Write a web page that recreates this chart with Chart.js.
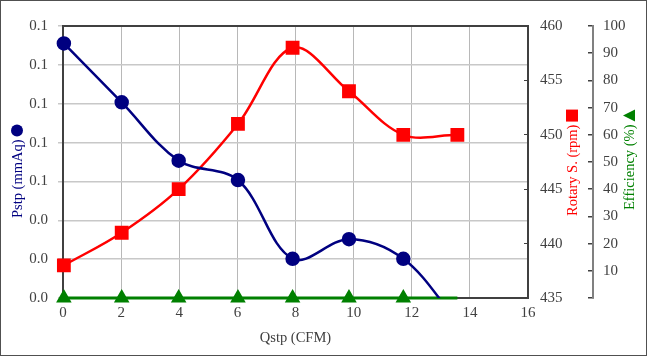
<!DOCTYPE html>
<html lang="en">
<head>
<meta charset="UTF-8">
<title>Pstp / Rotary S. / Efficiency vs Qstp</title>
<script src="https://cdn.jsdelivr.net/npm/chart.js@4.4.1/dist/chart.umd.min.js"></script>
<style>
  body { margin: 0; background: #fff; }
  .frame { width: 647px; height: 356px; box-sizing: border-box; border: 1px solid #505050; background: #fff; }
  canvas { display: block; }
</style>
</head>
<body>
<div class="frame"><canvas id="fanChart" width="645" height="354"></canvas></div>
<script>
// values
const qstp = [0.03, 2.02, 3.98, 6.02, 7.9, 9.84, 11.71, 13.57];
const pstp = [0.131, 0.1007, 0.0707, 0.0607, 0.0202, 0.0303, 0.0202, -0.012];
const rotarySpeed = [438, 441, 445, 451, 458, 454, 450, 450];
const efficiency = [0, 0, 0, 0, 0, 0, 0, 0];

const pstpTickLabels = ['0.0', '0.0', '0.0', '0.1', '0.1', '0.1', '0.1', '0.1'];
const effTickLabels = ['', '10', '20', '30', '40', '50', '60', '70', '80', '90', '100'];

const serif = "'Liberation Serif', 'Times New Roman', serif";
const tickFont = { family: serif, size: 15 };
const tickColor = '#404040';

function pairs(ys) {
  return qstp.map((x, i) => ({ x: x, y: ys[i] }));
}

function fixWidth(w) {
  return function (scale) { scale.width = w; };
}

// frame around the plot and the rotated side titles with their markers
const sideTitles = {
  id: 'sideTitles',
  beforeDatasetsDraw(chart) {
    const { ctx, chartArea: a } = chart;
    ctx.save();
    ctx.strokeStyle = '#404040';
    ctx.lineWidth = 2;
    ctx.strokeRect(a.left, a.top, a.right - a.left, a.bottom - a.top);
    ctx.restore();
  },
  afterDraw(chart) {
    const { ctx, scales } = chart;
    const titles = [
      { text: 'Pstp (mmAq)', color: '#000080', x: scales.y.left + 16, y: 217, mark: 'circle' },
      { text: 'Rotary S. (rpm)', color: '#ff0000', x: scales.y1.left + 44, y: 215, mark: 'square' },
      { text: 'Efficiency (%)', color: '#008000', x: scales.y2.left + 36, y: 209, mark: 'triangle' }
    ];
    ctx.save();
    ctx.font = '14.5px ' + serif;
    titles.forEach(t => {
      ctx.save();
      ctx.translate(t.x, t.y);
      ctx.rotate(-Math.PI / 2);
      ctx.fillStyle = t.color;
      ctx.textAlign = 'left';
      ctx.textBaseline = 'middle';
      ctx.fillText(t.text, 0, 1);
      const cx = ctx.measureText(t.text).width + 9;
      ctx.beginPath();
      if (t.mark === 'circle') {
        ctx.arc(cx, 0, 6, 0, Math.PI * 2);
      } else if (t.mark === 'square') {
        ctx.rect(cx - 6, -6, 12, 12);
      } else {
        ctx.moveTo(cx - 6, 6);
        ctx.lineTo(cx + 6, 6);
        ctx.lineTo(cx, -6);
        ctx.closePath();
      }
      ctx.fill();
      ctx.restore();
    });
    ctx.restore();
  }
};

new Chart(document.getElementById('fanChart'), {
  type: 'line',
  data: {
    datasets: [
      {
        label: 'Pstp (mmAq)',
        data: pairs(pstp),
        yAxisID: 'y',
        borderColor: '#000080',
        backgroundColor: '#000080',
        borderWidth: 2.5,
        pointStyle: 'circle',
        pointRadius: [6, 6, 6, 6, 6, 6, 6, 0],
        tension: 0.35,
        clip: { left: 10, top: 10, right: 10, bottom: 0 }
      },
      {
        label: 'Rotary S. (rpm)',
        data: pairs(rotarySpeed),
        yAxisID: 'y1',
        borderColor: '#ff0000',
        backgroundColor: '#ff0000',
        borderWidth: 2.5,
        pointStyle: 'rect',
        pointRadius: 8,
        tension: 0.35,
        clip: 10
      },
      {
        label: 'Efficiency (%)',
        data: pairs(efficiency),
        yAxisID: 'y2',
        borderColor: '#008000',
        backgroundColor: '#008000',
        borderWidth: 3,
        pointStyle: 'triangle',
        pointRadius: [6, 6, 6, 6, 6, 6, 6, 0],
        tension: 0.35,
        clip: 10
      }
    ]
  },
  options: {
    responsive: false,
    animation: false,
    layout: { padding: { top: 17, left: 0, right: 0, bottom: 0 } },
    plugins: {
      legend: { display: false },
      tooltip: { enabled: false }
    },
    elements: { point: { borderWidth: 0 } },
    scales: {
      x: {
        type: 'linear',
        min: 0,
        max: 16,
        afterFit(scale) { scale.height = 57; },
        ticks: { stepSize: 2, font: tickFont, color: tickColor, padding: 6, maxRotation: 0 },
        grid: { color: '#b8b8b8', lineWidth: 1, drawTicks: false },
        border: { display: false },
        title: {
          display: true,
          text: 'Qstp (CFM)',
          font: { family: serif, size: 14.5 },
          color: tickColor,
          padding: { top: 0, bottom: 8 }
        }
      },
      y: {
        position: 'left',
        min: 0,
        max: 0.14,
        afterFit: fixWidth(62),
        ticks: {
          stepSize: 0.02,
          font: tickFont,
          color: tickColor,
          padding: 10,
          callback: (v, i) => pstpTickLabels[i]
        },
        grid: { color: '#c8c8c8', lineWidth: 1.5, tickLength: 5 },
        border: { display: false }
      },
      y1: {
        position: 'right',
        min: 435,
        max: 460,
        afterFit: fixWidth(65),
        ticks: { stepSize: 5, font: tickFont, color: tickColor, padding: 16 },
        grid: { drawOnChartArea: false, color: '#404040', lineWidth: 1, tickLength: -4 },
        border: { display: false }
      },
      y2: {
        position: 'right',
        min: 0,
        max: 100,
        afterFit: fixWidth(53),
        ticks: {
          stepSize: 10,
          font: tickFont,
          color: tickColor,
          padding: 15,
          callback: (v, i) => effTickLabels[i]
        },
        grid: { drawOnChartArea: false, color: '#404040', lineWidth: 1.5, tickLength: -5 },
        border: { display: true, color: '#808080', width: 2 }
      }
    }
  },
  plugins: [sideTitles]
});
</script>
</body>
</html>
